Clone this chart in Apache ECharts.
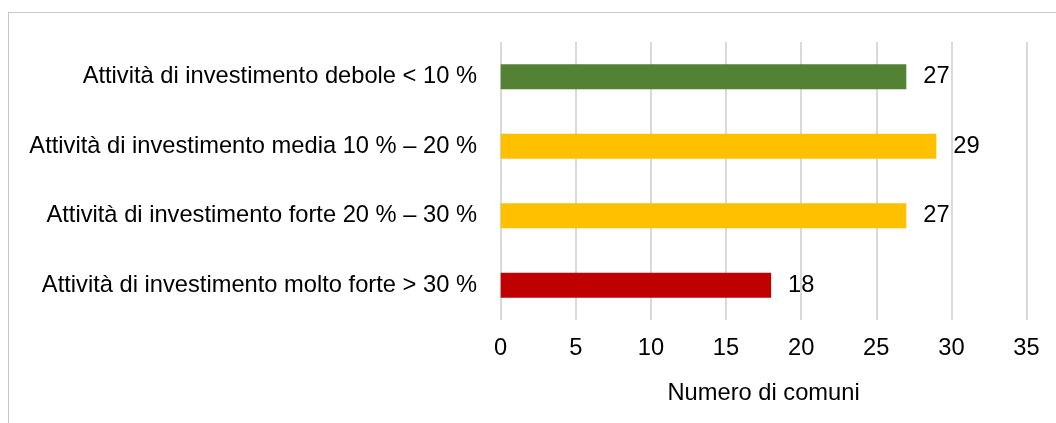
<!DOCTYPE html>
<html>
<head>
<meta charset="utf-8">
<script src="https://cdn.jsdelivr.net/npm/echarts@6/dist/echarts.min.js"></script>
<style>
html,body{margin:0;padding:0;background:#fff;width:1056px;height:423px;overflow:hidden;}
#frame{position:absolute;left:8px;top:12px;width:1100px;height:500px;border-top:1.5px solid #c8c8c8;border-left:1.5px solid #c8c8c8;box-sizing:border-box;}
#chart{position:absolute;left:0;top:0;width:1056px;height:423px;}
</style>
</head>
<body>
<div id="frame"></div>
<div id="chart"></div>
<script>
const categories = [
  "Attività di investimento debole < 10 %",
  "Attività di investimento media 10 % – 20 %",
  "Attività di investimento forte 20 % – 30 %",
  "Attività di investimento molto forte > 30 %"
];
const values = [27, 29, 27, 18];
const barColors = ["#548235", "#FFC000", "#FFC000", "#C00000"];
const axisName = "Numero di comuni";

const FONT = 'Liberation Sans, Arial, sans-serif';
const FS = 23.7;
const chart = echarts.init(document.getElementById('chart'), null, {renderer: 'canvas'});
chart.setOption({
  animation: false,
  backgroundColor: 'transparent',
  textStyle: {fontFamily: FONT},
  grid: {left: 500.7, right: 29.5, top: 42, bottom: 103, containLabel: false},
  xAxis: {
    type: 'value', min: 0, max: 35, interval: 5,
    axisLine: {show: false}, axisTick: {show: false},
    splitLine: {show: true, lineStyle: {color: '#d9d9d9', width: 2}},
    axisLabel: {color: '#000', fontSize: FS, margin: 16, fontFamily: FONT},
    name: axisName, nameLocation: 'middle', nameGap: 61,
    nameTextStyle: {color: '#000', fontSize: FS, fontFamily: FONT}
  },
  yAxis: {
    type: 'category', data: categories, inverse: true,
    axisLine: {show: false}, axisTick: {show: false},
    axisLabel: {color: '#000', fontSize: FS, margin: 23.7, fontFamily: FONT}
  },
  series: [{
    type: 'bar',
    data: values.map((v, i) => ({value: v, itemStyle: {color: barColors[i]}})),
    barWidth: '36%',
    label: {show: true, position: 'right', distance: 17, color: '#000', fontSize: FS, fontFamily: FONT}
  }]
});
</script>
</body>
</html>
